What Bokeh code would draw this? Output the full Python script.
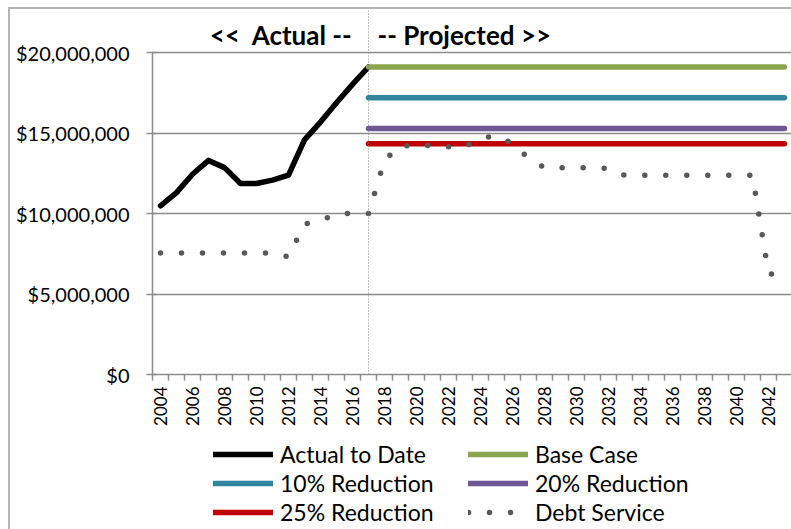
import math

from bokeh.plotting import figure
from bokeh.layouts import column
from bokeh.models import (FixedTicker, NumeralTickFormatter, Span, Label,
                          Legend, LegendItem, Range1d)
from bokeh.embed import file_html
from bokeh.resources import INLINE

# Revenue actually collected, by year
actual_years = list(range(2004, 2018))
actual_values = [10.48e6, 11.30e6, 12.44e6, 13.30e6, 12.85e6, 11.86e6, 11.86e6,
                 12.07e6, 12.38e6, 14.57e6, 15.68e6, 16.88e6, 18.02e6, 19.10e6]

# Flat projected revenue scenarios, from the last actual year onward
projection_years = [2017, 2043]
scenario_names = ["Base Case", "10% Reduction", "20% Reduction", "25% Reduction"]
scenario_levels = [19.10e6, 17.19e6, 15.28e6, 14.33e6]
scenario_colors = ["#8ba64f", "#31859c", "#6c5893", "#c00000"]

# Annual debt service
debt_years = list(range(2004, 2044))
debt_values = [7.55e6, 7.55e6, 7.55e6, 7.55e6, 7.55e6, 7.55e6, 7.55e6, 7.55e6,   # 2004-2011
               7.30e6, 9.35e6, 9.55e6, 10.0e6, 10.0e6, 10.0e6, 13.30e6, 14.25e6,  # 2012-2019
               14.15e6, 14.25e6, 14.15e6, 14.15e6, 14.65e6, 14.85e6, 14.35e6,     # 2020-2026
               13.45e6, 12.85e6, 12.85e6, 12.85e6, 12.82e6, 12.80e6, 12.38e6,     # 2027-2033
               12.38e6, 12.38e6, 12.38e6, 12.38e6, 12.38e6, 12.38e6, 12.38e6,     # 2034-2040
               12.38e6, 6.30e6, 6.00e6]                                           # 2041-2043

label_years = list(range(2004, 2043, 2))
category_edges = [y - 0.5 for y in range(2004, 2045)]
value_ticks = [0, 5e6, 10e6, 15e6, 20e6]
split_year = 2017

FONT = "Lato"
AXIS_GREY = "#8c8c8c"
ACTUAL_STYLE = dict(line_color="#000000", line_width=5.5, line_join="round", line_cap="round")
DEBT_STYLE = dict(line_color="#595959", line_width=5.5, line_cap="round", line_dash="0 21")

p = figure(width=781, height=427, output_backend="svg", toolbar_location=None,
           title=None, x_range=Range1d(2003.5, 2043.44),
           y_range=Range1d(0, 22.61e6),
           min_border_left=142, min_border_right=0, min_border_top=1,
           min_border_bottom=62)
p.outline_line_color = None
p.background_fill_color = "white"
p.border_fill_color = "white"

# y axis: currency ticks with cross tick marks
p.yaxis.ticker = FixedTicker(ticks=value_ticks)
p.yaxis.formatter = NumeralTickFormatter(format="$0,0")
p.yaxis.bounds = (0, 20e6)
p.yaxis.axis_line_color = AXIS_GREY
p.yaxis.axis_line_width = 1.5
p.yaxis.major_tick_line_color = AXIS_GREY
p.yaxis.major_tick_line_width = 1.5
p.yaxis.major_tick_in = 4
p.yaxis.major_tick_out = 6
p.yaxis.minor_tick_line_color = None
p.yaxis.major_label_standoff = 17
p.yaxis.major_label_text_font = FONT
p.yaxis.major_label_text_font_size = "20px"
p.yaxis.major_label_text_color = "#000000"

# x axis: year labels every two years, ticks between categories
p.xaxis.ticker = FixedTicker(ticks=label_years, minor_ticks=category_edges)
p.xaxis.formatter = NumeralTickFormatter(format="0")
p.xaxis.axis_line_color = AXIS_GREY
p.xaxis.axis_line_width = 1.5
p.xaxis.major_tick_line_color = None
p.xaxis.major_tick_in = 0
p.xaxis.major_tick_out = 0
p.xaxis.minor_tick_line_color = AXIS_GREY
p.xaxis.minor_tick_line_width = 1.5
p.xaxis.minor_tick_in = 0
p.xaxis.minor_tick_out = 6
p.xaxis.major_label_orientation = math.pi / 2
p.xaxis.major_label_standoff = 6
p.xaxis.major_label_text_font = FONT
p.xaxis.major_label_text_font_size = "17px"
p.xaxis.major_label_text_color = "#000000"

p.xgrid.visible = False
p.ygrid.ticker = FixedTicker(ticks=value_ticks)
p.ygrid.grid_line_color = AXIS_GREY
p.ygrid.grid_line_width = 1.5

# Divider between actual and projected years
p.add_layout(Span(location=split_year, dimension="height", line_color="#808080",
                  line_width=1, line_dash="1 2"))
p.add_layout(Label(x=split_year, y=21.06e6, x_offset=-16, text="<<\u00a0 Actual --",
                   text_align="right", text_baseline="alphabetic",
                   text_font=FONT, text_font_style="bold", text_font_size="26px",
                   text_color="#000000"))
p.add_layout(Label(x=split_year, y=21.06e6, x_offset=9, text="-- Projected >>",
                   text_align="left", text_baseline="alphabetic",
                   text_font=FONT, text_font_style="bold", text_font_size="26px",
                   text_color="#000000"))

p.line(actual_years, actual_values, **ACTUAL_STYLE)
for level, color in zip(scenario_levels, scenario_colors):
    p.line(projection_years, [level, level], line_color=color, line_width=5.5,
           line_cap="round")
p.line(debt_years, debt_values, **DEBT_STYLE)

# Legend strip under the chart. Its key renderers only carry the line styles;
# their points sit outside the strip's ranges so nothing but the keys shows.
leg = figure(width=781, height=93, output_backend="svg", toolbar_location=None,
             title=None, x_range=Range1d(0, 1), y_range=Range1d(0, 1),
             x_axis_type=None, y_axis_type=None,
             min_border_left=0, min_border_right=0, min_border_top=0,
             min_border_bottom=0)
leg.outline_line_color = None
leg.xgrid.visible = False
leg.ygrid.visible = False

off_x, off_y = [0, 1], [-5, -5]
key_actual = leg.line(off_x, off_y, **ACTUAL_STYLE)
key_scen = [leg.line(off_x, off_y, line_color=c, line_width=5.5, line_cap="round")
            for c in scenario_colors]
key_debt = leg.line(off_x, off_y, **DEBT_STYLE)


def make_legend(items, x, y):
    return Legend(items=items, location=(x, y), orientation="vertical",
                  padding=0, margin=0, spacing=1, glyph_width=60, glyph_height=24,
                  label_height=24, label_standoff=7, border_line_color=None,
                  background_fill_alpha=0, label_text_font=FONT,
                  label_text_font_size="23px", label_text_color="#000000")


leg.add_layout(make_legend([
    LegendItem(label="Actual to Date", renderers=[key_actual]),
    LegendItem(label=scenario_names[1], renderers=[key_scen[1]]),
    LegendItem(label=scenario_names[3], renderers=[key_scen[3]]),
], 61, 3))
leg.add_layout(make_legend([
    LegendItem(label=scenario_names[0], renderers=[key_scen[0]]),
    LegendItem(label=scenario_names[2], renderers=[key_scen[2]]),
    LegendItem(label="Debt Service", renderers=[key_debt]),
], 316, 3))

chart = column(p, leg, spacing=0,
               styles={"margin-left": "8px", "margin-top": "7px",
                       "border-left": "2px solid #b4b4b4",
                       "border-top": "2px solid #b4b4b4"})

open("out.html", "w").write(file_html(chart, INLINE))
